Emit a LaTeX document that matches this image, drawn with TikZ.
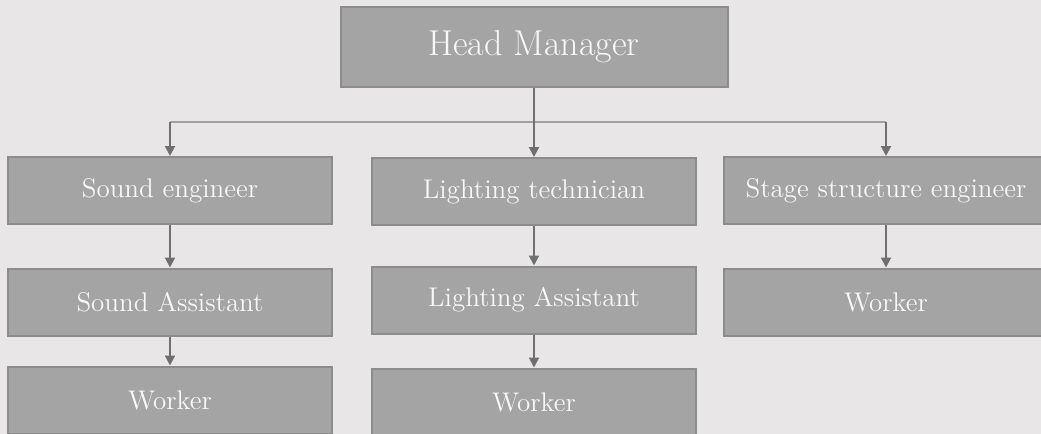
\documentclass[tikz,border=0pt]{standalone}
\usepackage{tikz}
\usetikzlibrary{arrows.meta}

\definecolor{bgcol}{HTML}{E8E6E6}
\definecolor{boxcol}{HTML}{A4A4A4}
\definecolor{edgecol}{HTML}{8C8C8C}
\definecolor{arrcol}{HTML}{6F6F6F}
\definecolor{barcol}{HTML}{A0A0A0}
\definecolor{txtcol}{HTML}{F8F8F8}

\begin{document}
\begin{tikzpicture}[x = 0.5pt, y = -0.5pt,
                        post/.style = {rectangle, draw = edgecol, line width = 1pt, fill = boxcol,
                                       text = txtcol, minimum width = 162pt, minimum height = 33.5pt,
                                       inner sep = 0pt, font = \fontsize{13.5}{16}\selectfont},
                        boss/.style = {post, minimum width = 193.5pt, minimum height = 40pt,
                                       font = \fontsize{18}{21}\selectfont},
                        arr/.style = {draw = arrcol, line width = 1pt, -{Triangle[width = 5pt, length = 5pt]}},
                        bar/.style = {draw = barcol, line width = 1pt}]
      \fill [bgcol] (0, 0) rectangle (1041, 434);
      \clip (0, 0) rectangle (1041, 434);
      \useasboundingbox (0, 0) rectangle (1041, 434);
      \node [boss] (head) at (534, 47) {Head Manager};
      \node [post] (s1) at (170, 190.5) {Sound engineer};
      \node [post] (s2) at (170, 302) {Sound Assistant};
      \node [post] (s3) at (170, 400) {Worker};
      \node [post] (l1) at (534, 191.5) {Lighting technician};
      \node [post] (l2) at (534, 300) {Lighting Assistant};
      \node [post] (l3) at (534, 402) {Worker};
      \node [post] (t1) at (886, 190.5) {Stage structure engineer};
      \node [post] (t2) at (886, 302) {Worker};
      \coordinate (hub) at (534, 122);
      \draw [bar] (s1 |- hub) -- (t1 |- hub);
      \draw [arr] (head) -- (l1);
      \draw [arr] (s1 |- hub) -- (s1);
      \draw [arr] (t1 |- hub) -- (t1);
      \draw [arr] (s1) -- (s2);
      \draw [arr] (s2) -- (s3);
      \draw [arr] (l1) -- (l2);
      \draw [arr] (l2) -- (l3);
      \draw [arr] (t1) -- (t2);
    \end{tikzpicture}
\end{document}
